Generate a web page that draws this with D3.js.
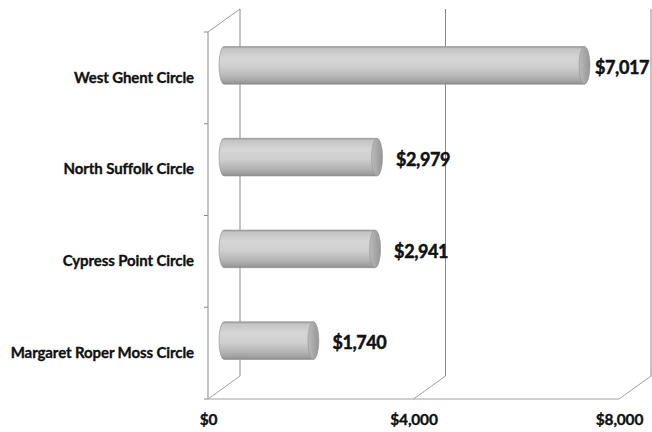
<!DOCTYPE html>
<html><head><meta charset="utf-8">
<script src="https://cdn.jsdelivr.net/npm/d3@7"></script>
<style>
html,body{margin:0;padding:0;background:#fff;}
svg{display:block;}
text{font-family:Lato,"Open Sans",sans-serif;font-weight:700;fill:#111;}
</style></head>
<body>
<script>
const categories = ["West Ghent Circle","North Suffolk Circle","Cypress Point Circle","Margaret Roper Moss Circle"];
const values = [7017, 2979, 2941, 1740];
const tickValues = [0, 4000, 8000];

(function(){
const W = 652, H = 432;
const svg = d3.select("body").append("svg").attr("width", W).attr("height", H);

// front-plane scales
const x = d3.scaleLinear().domain([0, 8000]).range([208, 619]);
const y = d3.scaleBand().domain(categories).range([32, 399]).paddingInner(0).paddingOuter(0);
const depth = {dx: 32, dy: -23};
const fmt = d3.format("$,");

const defs = svg.append("defs");
const g1 = defs.append("linearGradient").attr("id","body").attr("x1",0).attr("y1",0).attr("x2",0).attr("y2",1);
[[0,"#999999"],[0.06,"#c4c4c4"],[0.3,"#d6d6d6"],[0.55,"#cfcfcf"],[0.82,"#b2b2b2"],[0.95,"#9c9c9c"],[1,"#888888"]]
  .forEach(([o,c])=>g1.append("stop").attr("offset",o).attr("stop-color",c));
const g2 = defs.append("linearGradient").attr("id","cap").attr("x1",0).attr("y1",0).attr("x2",1).attr("y2",0);
[[0,"#bbbbbb"],[0.5,"#a8a8a8"],[1,"#969696"]]
  .forEach(([o,c])=>g2.append("stop").attr("offset",o).attr("stop-color",c));

const grid = svg.append("g").attr("stroke","#8a8a8a").attr("stroke-width",1).attr("fill","none");
const yTop = y.range()[0], yBot = y.range()[1];
// left wall
grid.append("line").attr("x1",x(0)).attr("y1",yTop).attr("x2",x(0)).attr("y2",yBot);
grid.append("line").attr("x1",x(0)).attr("y1",yTop).attr("x2",x(0)+depth.dx).attr("y2",yTop+depth.dy).attr("stroke","#9a9a9a");
// back wall gridlines
tickValues.forEach(v=>{
  grid.append("line").attr("x1",x(v)+depth.dx).attr("y1",yTop+depth.dy).attr("x2",x(v)+depth.dx).attr("y2",yBot+depth.dy);
  grid.append("line").attr("x1",x(v)).attr("y1",yBot).attr("x2",x(v)+depth.dx).attr("y2",yBot+depth.dy).attr("stroke","#a0a0a0");
});
// floor front edge
grid.append("line").attr("x1",x(0)).attr("y1",yBot).attr("x2",x(8000)).attr("y2",yBot).attr("stroke","#a0a0a0");
// category tick marks at band boundaries
const bounds = categories.map(c=>y(c)).concat([yBot]);
bounds.forEach(b=>grid.append("line").attr("x1",x(0)-4).attr("y1",b).attr("x2",x(0)).attr("y2",b));

// bars (cylinders at mid depth)
const mid = {dx: depth.dx/2, dy: depth.dy/2};
const bh = y.bandwidth()*0.41;
const rx = 5;
const bars = svg.append("g").selectAll("g").data(categories).join("g");
bars.each(function(c,i){
  const g = d3.select(this);
  const x0 = x(0)+mid.dx, x1 = x(values[i])+mid.dx;
  const cy = y(c)+y.bandwidth()/2+mid.dy - 1;
  const t = cy-bh/2, b = cy+bh/2, ry = bh/2;
  g.append("path")
    .attr("d", `M${x1},${t} L${x0},${t} A${rx},${ry} 0 0 0 ${x0},${b} L${x1},${b} Z`)
    .attr("fill","url(#body)").attr("stroke","#969696").attr("stroke-width",0.7);
  g.append("ellipse").attr("cx",x1).attr("cy",cy).attr("rx",rx+0.5).attr("ry",ry)
    .attr("fill","url(#cap)").attr("stroke","#949494").attr("stroke-width",0.6);
  const txt = g.append("text").attr("y", cy+2.5)
    .attr("dy","0.35em").attr("font-size",18).attr("letter-spacing","-0.4")
    .attr("stroke","#111").attr("stroke-width",0.5)
    .text(fmt(values[i]));
  const tw = txt.node().getComputedTextLength();
  txt.attr("x", Math.min(x(values[i])+depth.dx+3, W-3-tw));
});

// category axis labels
const yAxis = d3.axisLeft(y).tickSize(0).tickPadding(14);
const ya = svg.append("g").attr("transform",`translate(${x(0)},0)`).call(yAxis);
ya.select(".domain").remove();
ya.selectAll("text").attr("font-size",15).attr("font-family","Lato,sans-serif").attr("font-weight",700)
  .attr("fill","#111").attr("stroke","#111").attr("stroke-width",0.35).attr("letter-spacing","-0.1");

// value axis labels
const xAxis = d3.axisBottom(x).tickValues(tickValues).tickFormat(fmt).tickSize(0).tickPadding(15);
const xa = svg.append("g").attr("transform",`translate(0,${yBot})`).call(xAxis);
xa.select(".domain").remove();
xa.selectAll("text").attr("font-size",15.5).attr("font-family","Lato,sans-serif").attr("font-weight",700)
  .attr("fill","#111").attr("stroke","#111").attr("stroke-width",0.35).attr("letter-spacing","-0.2");
})();
</script>
</body></html>
